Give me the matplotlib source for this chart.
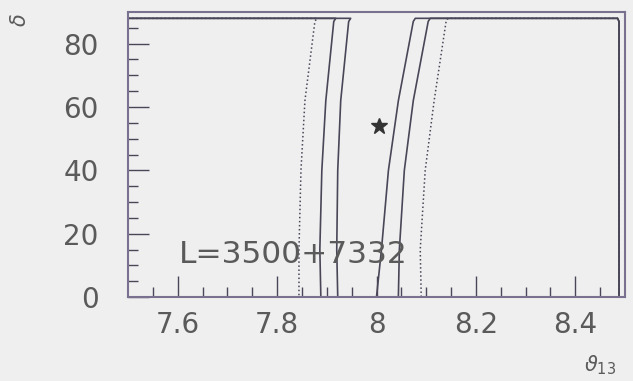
import matplotlib
matplotlib.use("Agg")
import matplotlib.pyplot as plt

# contour lines: theta13 position at each delta
delta = [0, 15, 40, 62, 87]
left_dot = [7.844, 7.844, 7.848, 7.856, 7.876]
left_out = [7.888, 7.886, 7.890, 7.898, 7.914]
left_in = [7.922, 7.920, 7.922, 7.928, 7.944]
right_in = [8.000, 8.010, 8.024, 8.044, 8.074]
right_out = [8.044, 8.046, 8.056, 8.074, 8.104]
right_dot = [8.090, 8.088, 8.098, 8.116, 8.140]

delta_top = 88.0      # contours close along here
theta_edge = 8.488    # and down the right side
star = (8.005, 54)

xticks = [7.6, 7.8, 8.0, 8.2, 8.4]
xlabels = ["7.6", "7.8", "8", "8.2", "8.4"]
yticks = [0, 20, 40, 60, 80]

bg = "#efefef"
ink = "#4a4658"
frame = "#7a7090"
txt = "#5a5a5a"

fig = plt.figure(figsize=(6.33, 3.81), dpi=100, facecolor=bg)
ax = fig.add_axes([128/633, 1-297/381, 497/633, 285/381], facecolor=bg)


def left_piece(xs, style, lw):
    px = [7.5, xs[-1] + 0.004] + xs[::-1]
    py = [delta_top, delta_top] + delta[::-1]
    ax.plot(px, py, style, color=ink, lw=lw)


def right_piece(xs, style, lw):
    px = xs + [xs[-1] + 0.004, theta_edge - 0.003, theta_edge, theta_edge]
    py = delta + [delta_top, delta_top, delta_top - 1, 0]
    ax.plot(px, py, style, color=ink, lw=lw)


left_piece(left_dot, ":", 1.1)
left_piece(left_out, "-", 1.2)
left_piece(left_in, "-", 1.2)
right_piece(right_in, "-", 1.2)
right_piece(right_out, "-", 1.2)
right_piece(right_dot, ":", 1.1)

ax.plot([star[0]], [star[1]], "*", color="#333333", ms=12)

ax.text(7.603, 13.3, "L=3500+7332", fontsize=22.5, color=txt, va="center", ha="left")

ax.set_xlim(7.5, 8.5)
ax.set_ylim(0, 90)
ax.set_xticks(xticks)
ax.set_xticklabels(xlabels)
ax.set_yticks(yticks)
ax.set_xticks([7.55 + 0.05*i for i in range(19)], minor=True)
ax.set_yticks([5*i for i in range(18)], minor=True)
ax.tick_params(which="major", direction="in", length=15, width=1, color=ink,
               labelsize=20, labelcolor=txt)
ax.tick_params(axis="y", which="major", pad=21)
ax.tick_params(axis="x", which="major", pad=10)
ax.tick_params(which="minor", direction="in", length=7, width=1, color=ink)
for s in ax.spines.values():
    s.set_color(frame)
    s.set_linewidth(1.5)

fig.text(20/633, 1-20/381, r"$\delta$", rotation=90, fontsize=15, color=txt,
         ha="center", va="center")
fig.text(600/633, 1-365/381, r"$\vartheta_{13}$", fontsize=15, color=txt,
         ha="center", va="center")

fig.savefig("out.png", dpi=100, facecolor=bg)
